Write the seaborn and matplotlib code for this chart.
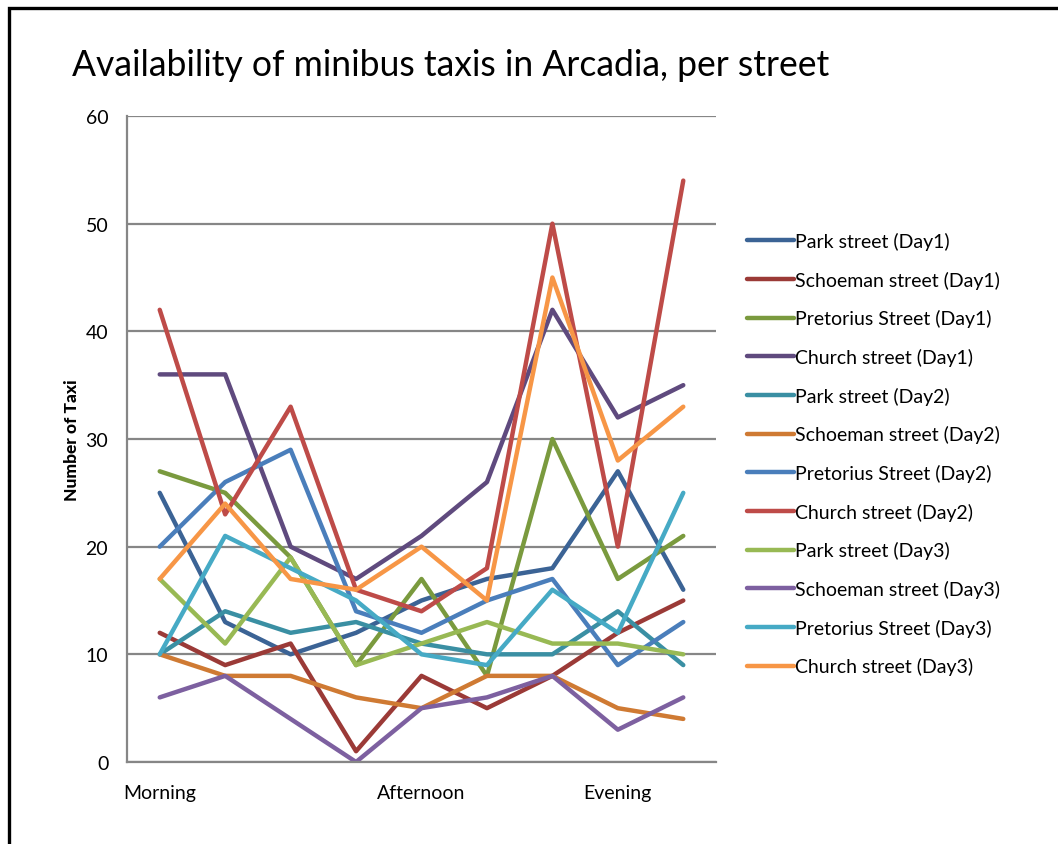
import numpy as np
import pandas as pd
import matplotlib
matplotlib.use("Agg")
import matplotlib.pyplot as plt
import seaborn as sns
from matplotlib.patches import Rectangle

# ---- data ----
slots = np.arange(9)
tick_labels = ["Morning", "", "", "", "Afternoon", "", "", "Evening", ""]
series_names = [
    "Park street (Day1)", "Schoeman street (Day1)", "Pretorius Street (Day1)", "Church street (Day1)",
    "Park street (Day2)", "Schoeman street (Day2)", "Pretorius Street (Day2)", "Church street (Day2)",
    "Park street (Day3)", "Schoeman street (Day3)", "Pretorius Street (Day3)", "Church street (Day3)",
]
park_d1 = [25, 13, 10, 12, 15, 17, 18, 27, 16]
schoeman_d1 = [12, 9, 11, 1, 8, 5, 8, 12, 15]
pretorius_d1 = [27, 25, 19, 9, 17, 8, 30, 17, 21]
church_d1 = [36, 36, 20, 17, 21, 26, 42, 32, 35]
park_d2 = [10, 14, 12, 13, 11, 10, 10, 14, 9]
schoeman_d2 = [10, 8, 8, 6, 5, 8, 8, 5, 4]
pretorius_d2 = [20, 26, 29, 14, 12, 15, 17, 9, 13]
church_d2 = [42, 23, 33, 16, 14, 18, 50, 20, 54]
park_d3 = [17, 11, 19, 9, 11, 13, 11, 11, 10]
schoeman_d3 = [6, 8, 4, 0, 5, 6, 8, 3, 6]
pretorius_d3 = [10, 21, 18, 15, 10, 9, 16, 12, 25]
church_d3 = [17, 24, 17, 16, 20, 15, 45, 28, 33]
all_values = [park_d1, schoeman_d1, pretorius_d1, church_d1,
              park_d2, schoeman_d2, pretorius_d2, church_d2,
              park_d3, schoeman_d3, pretorius_d3, church_d3]

colors = ["#3B6395", "#9B3A37", "#7A9A3E", "#5F4A7E", "#3A8FA3", "#CF7A33",
          "#4A7EBB", "#BE4B48", "#98B954", "#7D60A0", "#46AAC5", "#F79646"]

rows = []
for name, vals in zip(series_names, all_values):
    for x, v in zip(slots, vals):
        rows.append({"slot": x, "taxis": v, "series": name})
df = pd.DataFrame(rows)

sns.set_style("white")
plt.rcParams["font.family"] = ["Lato", "DejaVu Sans"]
plt.rcParams["text.color"] = "black"

fig = plt.figure(figsize=(10.58, 8.45), dpi=100)
ax = fig.add_axes([127/1058, 1-763/845, (716-127)/1058, (763-117)/845])

sns.lineplot(data=df, x="slot", y="taxis", hue="series", hue_order=series_names,
             palette=colors, linewidth=3.2, ax=ax, legend=True, sort=False)

ax.set_xlim(-0.5, 8.5)
ax.set_ylim(0, 60)
ax.set_yticks([0, 10, 20, 30, 40, 50, 60])
ax.set_xticks(slots)
ax.set_xticklabels(tick_labels)
ax.tick_params(axis="both", length=0, labelsize=14, colors="black")
ax.tick_params(axis="y", pad=13.5)
ax.tick_params(axis="x", pad=16)
ax.yaxis.grid(True, color="#868686", linewidth=1.6)
ax.set_axisbelow(True)
for s in ["top", "right"]:
    ax.spines[s].set_visible(False)
for s in ["left", "bottom"]:
    ax.spines[s].set_color("#868686")
    ax.spines[s].set_linewidth(1.6)
ax.set_xlabel("")
ax.set_ylabel("Number of Taxi", fontsize=12.5, fontweight="black", labelpad=4, color="black")

leg = ax.legend(loc="upper left", bbox_to_anchor=(747/1058, 1-233/845),
                bbox_transform=fig.transFigure, frameon=False, fontsize=14,
                handlelength=2.4, handletextpad=0.05, labelspacing=1.06,
                borderaxespad=0, borderpad=0)
for line in leg.get_lines():
    line.set_linewidth(3.2)
for t in leg.get_texts():
    t.set_color("black")

fig.text(72/1058, 1-65/845, "Availability of minibus taxis in Arcadia, per street",
         fontsize=25.6, va="center", ha="left", color="black")

fig.patches.append(Rectangle((9/1058, -0.2), 2, 1-8.5/845+0.2,
                             transform=fig.transFigure, fill=False,
                             edgecolor="black", linewidth=2.4))

fig.savefig("out.png", dpi=100)
